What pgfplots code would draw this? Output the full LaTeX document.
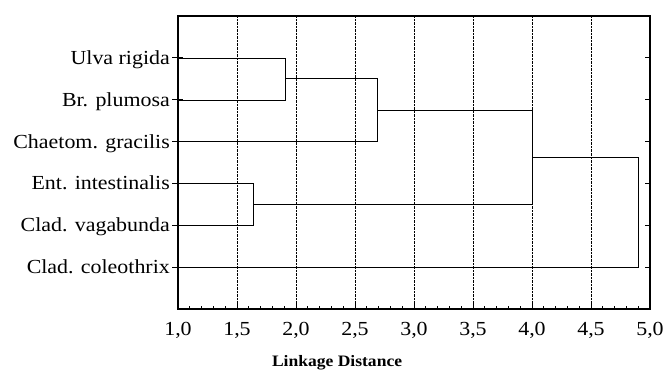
\documentclass[border=0pt]{standalone}
\usepackage{fontspec}
\setmainfont{Liberation Serif}[FakeStretch=1.1]
\usepackage{pgfplots}
\pgfplotsset{compat=1.18}
\begin{document}
\begin{tikzpicture}
\useasboundingbox (0bp,0bp) rectangle (665bp,370bp);
\begin{axis}[
  at={(178bp,61bp)}, anchor=south west,
  scale only axis, width=472bp, height=293bp,
  xmin=1, xmax=5, ymin=0, ymax=7, y dir=reverse,
  axis line style={line width=1.2bp},
  xtick={1,1.5,...,5}, minor x tick num=4,
  xtick pos=bottom,
  ytick={1,2,3,4,5,6}, ytick pos=both,
  yticklabels={Ulva rigida, Br. plumosa, Chaetom. gracilis, Ent. intestinalis, Clad. vagabunda, Clad. coleothrix},
  tick align=inside,
  major tick length=5bp, minor tick length=3bp,
  tick style={black, line width=0.9bp},
  xmajorgrids, grid style={black, densely dotted, line width=0.8bp},
  /pgf/number format/assume math mode=true,
  xticklabel={\pgfmathprintnumber[fixed, fixed zerofill, precision=1, use comma]{\tick}},
  ticklabel style={font=\fontsize{20}{24}\selectfont},
  yticklabel style={inner sep=0pt, xshift=-8bp, text height=13bp, text depth=0pt, anchor=east},
  xticklabel style={inner sep=0pt, yshift=-13bp, anchor=north},
  xlabel={Linkage Distance},
  xlabel style={at={(axis description cs:0.337,0)}, anchor=north, yshift=-46bp, inner sep=0pt, font=\bfseries\fontsize{16}{19}\selectfont},
  cycle list={{black, line width=1.2bp, no markers}},
]
\addplot coordinates {(1,1) (1.91,1) (1.91,2) (1,2)};
\addplot coordinates {(1.91,1.5) (2.69,1.5) (2.69,3) (1,3)};
\addplot coordinates {(1,4) (1.64,4) (1.64,5) (1,5)};
\addplot coordinates {(2.69,2.25) (4.0,2.25) (4.0,4.5) (1.64,4.5)};
\addplot coordinates {(4.0,3.375) (4.9,3.375) (4.9,6) (1,6)};
\end{axis}
\begin{axis}[
  at={(178bp,61bp)}, anchor=south west,
  scale only axis, width=472bp, height=293bp,
  xmin=1, xmax=5, ymin=0, ymax=7, y dir=reverse,
  axis x line=none, axis y line*=left,
  axis line style={line width=1.2bp},
  ytick={1,2,3,4,5,6}, yticklabels={},
  tick align=outside, major tick length=6bp,
  tick style={black, line width=0.9bp},
]
\end{axis}
\end{tikzpicture}
\end{document}
